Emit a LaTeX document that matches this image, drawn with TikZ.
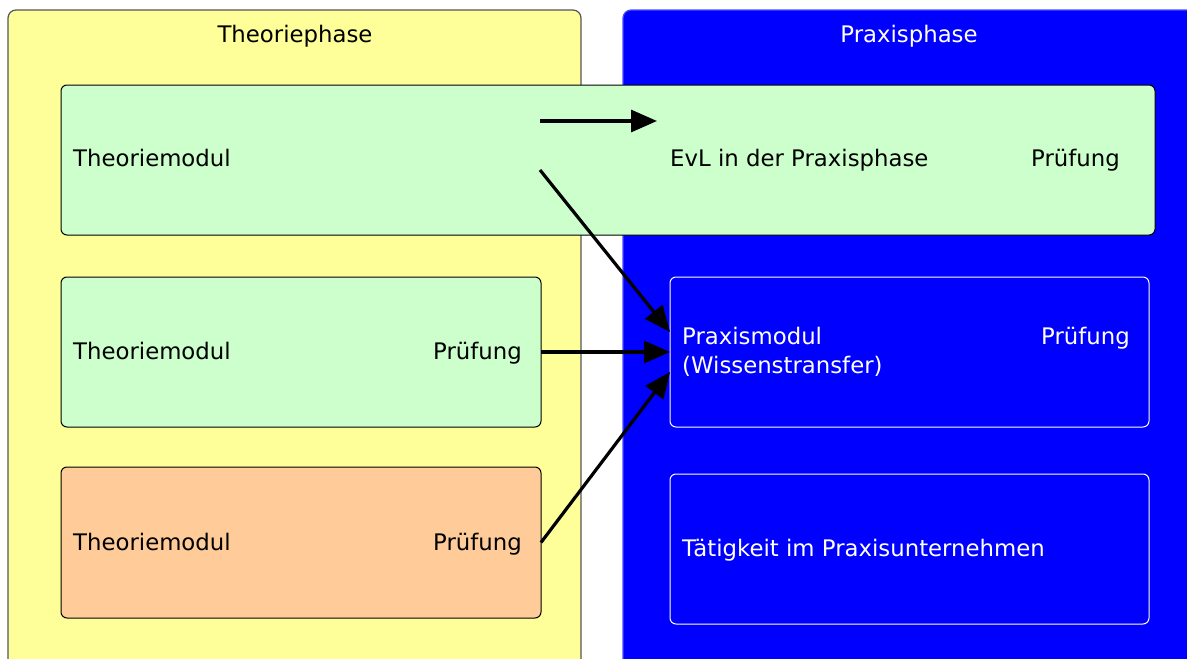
\documentclass[tikz,border=0pt]{standalone}
\usepackage{fontspec}
\setmainfont{DejaVu Sans}
\usetikzlibrary{arrows.meta}

\definecolor{theoyellow}{HTML}{FFFF99}
\definecolor{modgreen}{HTML}{CCFFCC}
\definecolor{modorange}{HTML}{FFCC99}
\definecolor{praxblue}{HTML}{0000FF}
\definecolor{panelgrey}{HTML}{555555}

\begin{document}
\begin{tikzpicture} [x=1pt,y=-1pt]
  % styles for the panels, boxes, texts and arrows
  \tikzstyle{every node}=[font=\fontsize{22.8}{29}\selectfont]
  \tikzstyle{panel}=[rounded corners=8pt, anchor=north west, inner sep=0pt, outer sep=0pt, line width=1.2pt]
  \tikzstyle{modbox}=[rounded corners=6pt, anchor=north west, inner sep=0pt, outer sep=0pt, line width=1pt]
  \tikzstyle{txt}=[anchor=base west, inner sep=0pt]
  \tikzstyle{flow}=[line width=3.2pt, -{Triangle[length=26pt,width=22pt]}]

  \useasboundingbox (0,0) rectangle (1187,659);
  \clip (0,0) rectangle (1187,659);

  % the two phases
  \node [panel, draw=panelgrey, fill=theoyellow, minimum width=573pt, minimum height=680pt] (theo) at (8,10) {};
  \node [panel, draw=praxblue!70!white, fill=praxblue, minimum width=600pt, minimum height=680pt] (prax) at (623,10) {};
  \node [anchor=base] (theoT) at (295,42) {Theoriephase};
  \node [anchor=base, text=white] (praxT) at (909,42) {Praxisphase};

  % the modules
  \node [modbox, draw=black, fill=modgreen, minimum width=1094pt, minimum height=150pt] (evl) at (61,85) {};
  \node [modbox, draw=black, fill=modgreen, minimum width=480pt, minimum height=150pt] (theo2) at (61,277) {};
  \node [modbox, draw=black, fill=modorange, minimum width=480pt, minimum height=151pt] (theo3) at (61,467) {};
  \node [modbox, draw=white, fill=praxblue, minimum width=479pt, minimum height=150pt] (pmod) at (670,277) {};
  \node [modbox, draw=white, fill=praxblue, minimum width=479pt, minimum height=150pt] (taet) at (670,474) {};

  % texts
  \node [txt] (t1) at (73,166) {Theoriemodul};
  \node [txt] (evlT) at (670,166) {EvL in der Praxisphase};
  \node [txt] (p1) at (1031,166) {Prüfung};
  \node [txt] (t2) at (73,359) {Theoriemodul};
  \node [txt] (p2) at (433,359) {Prüfung};
  \node [txt] (t3) at (73,550) {Theoriemodul};
  \node [txt] (p3) at (433,550) {Prüfung};
  \node [txt, text=white] (pm1) at (682,344) {Praxismodul};
  \node [txt, text=white] (pm2) at (682,373) {(Wissenstransfer)};
  \node [txt, text=white] (p4) at (1041,344) {Prüfung};
  \node [txt, text=white] (taetT) at (682,556) {Tätigkeit im Praxisunternehmen};

  % arrow ends
  \coordinate (a1s) at (540,121);
  \coordinate (a1e) at (657,121);
  \coordinate (a2s) at (540,170);
  \coordinate (a2e) at (670,332);
  \coordinate (a4e) at (670,372);

  % arrows
  \draw [flow] (a1s) -- (a1e);
  \draw [flow] (a2s) -- (a2e);
  \draw [flow] (theo2.east) -- (pmod.west);
  \draw [flow] (theo3.east) -- (a4e);

\end{tikzpicture}
\end{document}
